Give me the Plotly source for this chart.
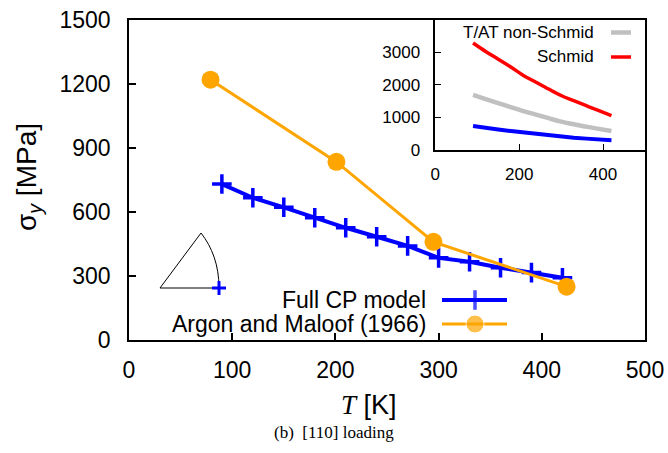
import plotly.graph_objects as go

# ---- data -------------------------------------------------------------
# Full crystal-plasticity model, [110] loading
T_cp = [90, 120, 150, 180, 210, 240, 270, 300, 330, 360, 390, 420]
sy_cp = [731, 667, 622, 573, 526, 484, 441, 385, 367, 339, 316, 292]

# Argon and Maloof (1966) experiments
T_exp = [79, 201, 295, 424]
sy_exp = [1220, 835, 460, 250]

# Inset: comparison with simpler yield laws
sy_tat = [1690, 1560, 1435, 1310, 1190, 1080, 970, 862, 780, 710, 640, 576]
sy_schmid = [3290, 3030, 2790, 2550, 2290, 2080, 1870, 1670, 1510, 1355, 1200, 1050]

main_xticks = [0, 100, 200, 300, 400, 500]
main_yticks = [0, 300, 600, 900, 1200, 1500]
inset_xticks = [0, 200, 400]
inset_yticks = [0, 1000, 2000, 3000]

BLUE = "#0000ff"
ORANGE = "#ffa500"
RED = "#ff0000"
GRAY = "#c0c0c0"
FONT = "Liberation Sans, Arial, sans-serif"

# ---- figure geometry (pixels) ----------------------------------------
W, H = 668, 453
L, R, TOP, BOT = 129, 645, 20, 340   # plot area box


def px(x):
    return (x - L) / (R - L)


def py(y):
    return (BOT - y) / (BOT - TOP)


fig = go.Figure()

# main curves
fig.add_trace(go.Scatter(
    x=T_cp, y=sy_cp, mode="lines+markers", xaxis="x", yaxis="y",
    line=dict(color=BLUE, width=4),
    marker=dict(symbol="cross-thin", size=14, line=dict(color=BLUE, width=3.5)),
    showlegend=False))
fig.add_trace(go.Scatter(
    x=T_exp, y=sy_exp, mode="lines+markers", xaxis="x", yaxis="y",
    line=dict(color=ORANGE, width=3),
    marker=dict(symbol="circle", size=18, color=ORANGE),
    showlegend=False))

# inset curves
fig.add_trace(go.Scatter(x=T_cp, y=sy_tat, mode="lines", xaxis="x2", yaxis="y2",
                         line=dict(color=GRAY, width=4.5, shape="spline"),
                         showlegend=False))
fig.add_trace(go.Scatter(x=T_cp, y=sy_schmid, mode="lines", xaxis="x2", yaxis="y2",
                         line=dict(color=RED, width=3.5, shape="spline"),
                         showlegend=False))
fig.add_trace(go.Scatter(x=T_cp, y=sy_cp, mode="lines", xaxis="x2", yaxis="y2",
                         line=dict(color=BLUE, width=4), showlegend=False))

# legend keys and loading-direction marker on a hidden unit overlay
key_x0, key_x1, key_xm = px(442), px(507), px(475)
key_y_cp, key_y_exp = py(300), py(324)
fig.add_trace(go.Scatter(
    x=[key_x0, key_xm, key_x1], y=[key_y_cp] * 3, mode="lines+markers",
    xaxis="x3", yaxis="y3", line=dict(color=BLUE, width=4),
    marker=dict(symbol="cross-thin", size=[0, 14, 0], line=dict(color=BLUE, width=3.5)),
    showlegend=False, hoverinfo="skip"))
fig.add_trace(go.Scatter(
    x=[key_x0, key_xm, key_x1], y=[key_y_exp] * 3, mode="lines+markers",
    xaxis="x3", yaxis="y3", line=dict(color=ORANGE, width=3),
    marker=dict(symbol="circle", size=[0, 18, 0], color=ORANGE),
    showlegend=False, hoverinfo="skip"))
fig.add_trace(go.Scatter(
    x=[px(611), px(631)], y=[py(32.5)] * 2, mode="lines", xaxis="x3", yaxis="y3",
    line=dict(color=GRAY, width=4.5), showlegend=False, hoverinfo="skip"))
fig.add_trace(go.Scatter(
    x=[px(611), px(631)], y=[py(57)] * 2, mode="lines", xaxis="x3", yaxis="y3",
    line=dict(color=RED, width=3.5), showlegend=False, hoverinfo="skip"))

# stereographic triangle with the [110] corner marked
tri = (f"M {px(160)},{py(288)} L {px(201)},{py(233)} "
       f"C {px(212)},{py(247)} {px(219)},{py(265)} {px(219)},{py(288)} Z")
shapes = [dict(type="path", path=tri, xref="paper", yref="paper",
               line=dict(color="black", width=1), layer="below")]
fig.add_trace(go.Scatter(
    x=[px(219)], y=[py(288)], mode="markers", xaxis="x3", yaxis="y3",
    marker=dict(symbol="cross-thin", size=10, line=dict(color=BLUE, width=3)),
    showlegend=False, hoverinfo="skip"))

tick_font = dict(family=FONT, size=23, color="black")
inset_font = dict(family=FONT, size=17, color="black")

fig.update_layout(
    width=W, height=H,
    margin=dict(l=L, r=W - R, t=TOP, b=H - BOT, pad=0, autoexpand=False),
    paper_bgcolor="white", plot_bgcolor="rgba(0,0,0,0)",
    showlegend=False,
    shapes=shapes,
    xaxis=dict(domain=[0, 1], anchor="y", range=[0, 500], tickvals=main_xticks,
               ticks="inside", ticklen=7, tickwidth=1.5, tickcolor="black",
               showline=True, linecolor="black", linewidth=1.5, mirror=True,
               showgrid=False, zeroline=False, tickfont=tick_font,
               ticklabelstandoff=9, automargin=False),
    yaxis=dict(domain=[0, 1], anchor="x", range=[0, 1500], tickvals=main_yticks,
               ticks="inside", ticklen=7, tickwidth=1.5, tickcolor="black",
               showline=True, linecolor="black", linewidth=1.5, mirror=True,
               showgrid=False, zeroline=False, tickfont=tick_font,
               ticklabelstandoff=12, automargin=False),
    xaxis2=dict(domain=[px(435.3), 1], anchor="y2", range=[0, 500],
                tickvals=inset_xticks, ticks="inside", ticklen=6, tickwidth=1.2,
                tickcolor="black", showline=True, linecolor="black", linewidth=1.5,
                mirror=True, showgrid=False, zeroline=False, tickfont=inset_font,
                ticklabelstandoff=8, automargin=False),
    yaxis2=dict(domain=[py(149.6), 1], anchor="x2", range=[0, 4000],
                tickvals=inset_yticks, ticks="inside", ticklen=6, tickwidth=1.2,
                tickcolor="black", showline=True, linecolor="black", linewidth=1.5,
                mirror=True, showgrid=False, zeroline=False, tickfont=inset_font,
                ticklabelstandoff=10, automargin=False),
    xaxis3=dict(domain=[0, 1], anchor="y3", range=[0, 1], visible=False,
                automargin=False),
    yaxis3=dict(domain=[0, 1], anchor="x3", range=[0, 1], visible=False,
                automargin=False),
)

ann = []
# main legend text
ann.append(dict(text="Full CP model", x=px(428), y=key_y_cp, xref="paper", yref="paper",
                xanchor="right", yanchor="middle", showarrow=False,
                font=dict(family=FONT, size=23, color="black")))
ann.append(dict(text="Argon and Maloof (1966)", x=px(428), y=key_y_exp, xref="paper",
                yref="paper", xanchor="right", yanchor="middle", showarrow=False,
                font=dict(family=FONT, size=23, color="black")))
# inset legend text
ann.append(dict(text="T/AT non-Schmid", x=px(596), y=py(32.5), xref="paper", yref="paper",
                xanchor="right", yanchor="middle", showarrow=False, font=inset_font))
ann.append(dict(text="Schmid", x=px(596), y=py(57), xref="paper", yref="paper",
                xanchor="right", yanchor="middle", showarrow=False, font=inset_font))
# axis titles
ann.append(dict(text="<span style='font-family:Liberation Serif'><i>T</i></span> [K]",
                x=px(369), y=py(405), xref="paper", yref="paper",
                xanchor="center", yanchor="middle", showarrow=False,
                font=dict(family=FONT, size=27, color="black")))
ann.append(dict(text="σ<sub><i>y</i></sub> [MPa]", x=px(28), y=py(177),
                xref="paper", yref="paper", xanchor="center", yanchor="middle",
                textangle=-90, showarrow=False,
                font=dict(family=FONT, size=28, color="black")))
# caption
ann.append(dict(text="(b)  [110] loading", x=px(334), y=py(432), xref="paper",
                yref="paper", xanchor="center", yanchor="middle", showarrow=False,
                font=dict(family="Liberation Serif, Times New Roman, serif", size=17,
                          color="black")))
fig.update_layout(annotations=ann)

fig.write_html("out.html")
